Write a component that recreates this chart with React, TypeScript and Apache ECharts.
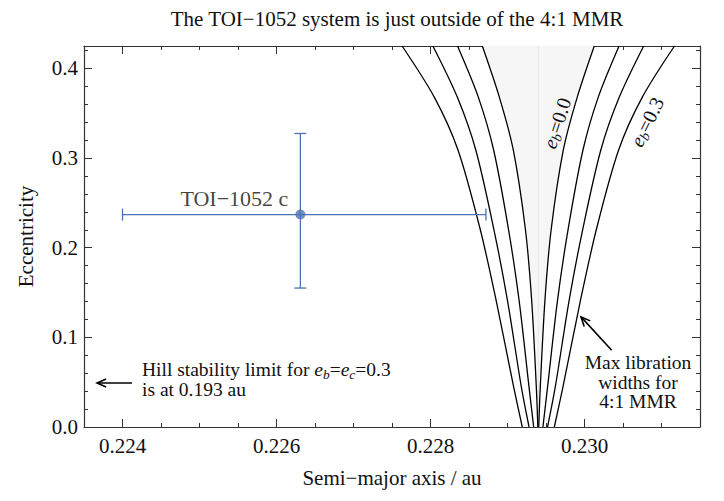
import React, { useEffect, useRef } from "react";
import * as echarts from "echarts";

const FONT = "Liberation Serif";
const BLUE = "#4C72B0";
const INK = "#111";

const titleText = "The TOI−1052 system is just outside of the 4:1 MMR";
const xAxisName = "Semi−major axis / au";
const yAxisName = "Eccentricity";

const xMin = 0.2235;
const xMax = 0.2315;
const yMin = 0;
const yMax = 0.425;

const xMajorTicks = [0.224, 0.226, 0.228, 0.23];
const xMinorTicks = [
  0.2235, 0.224, 0.2245, 0.225, 0.2255, 0.226, 0.2265, 0.227, 0.2275, 0.228,
  0.2285, 0.229, 0.2295, 0.23, 0.2305, 0.231, 0.2315,
];
const yMajorTicks = [0, 0.1, 0.2, 0.3, 0.4];
const yMinorTicks = [
  0, 0.02, 0.04, 0.06, 0.08, 0.1, 0.12, 0.14, 0.16, 0.18, 0.2, 0.22, 0.24, 0.26,
  0.28, 0.3, 0.32, 0.34, 0.36, 0.38, 0.4, 0.42,
];

// libration-width boundaries (semi-major axis, au) read at these eccentricities
const eccLevels = [0, 0.045, 0.141, 0.22, 0.309, 0.368, 0.425];
const eb00Left = [0.229394, 0.229374, 0.229314, 0.229233, 0.229075, 0.228894, 0.228673];
const eb00Right = [0.229406, 0.229426, 0.229486, 0.229567, 0.229725, 0.229906, 0.230127];
const eb01Left = [0.22934, 0.229279, 0.229151, 0.229014, 0.22882, 0.228621, 0.228351];
const eb01Right = [0.22946, 0.229521, 0.229649, 0.229786, 0.22998, 0.230179, 0.230449];
const eb02Left = [0.22928, 0.229179, 0.229, 0.228824, 0.228588, 0.228348, 0.228031];
const eb02Right = [0.22952, 0.229621, 0.2298, 0.229976, 0.230212, 0.230452, 0.230769];
const eb03Left = [0.229192, 0.229079, 0.228853, 0.228647, 0.228357, 0.228049, 0.227631];
const eb03Right = [0.229608, 0.229721, 0.229947, 0.230153, 0.230443, 0.230751, 0.231169];

const resonanceCenter = 0.2294;

const planetName = "TOI−1052 c";
const planetA = 0.22631;
const planetALow = 0.224;
const planetAHigh = 0.22872;
const planetE = 0.237;
const planetELow = 0.155;
const planetEHigh = 0.3274;

// arrows: [tailA, tailE, headA, headE]
const arrowData = [
  [0.224123, 0.0491, 0.223669, 0.0491],
  [0.230353, 0.0856, 0.229955, 0.1228],
];

const fmt = (d: number) => (v: number) => Number(v).toFixed(d);

function makeXAxis(position: "top" | "bottom", major: boolean, labels: boolean) {
  return {
    type: "value",
    position,
    min: xMin,
    max: xMax,
    interval: 0.0005,
    scale: true,
    splitLine: { show: false },
    axisLine: { show: !major, onZero: false, lineStyle: { color: "#333", width: 1.2 } },
    axisTick: {
      show: true,
      inside: true,
      length: major ? 8 : 4,
      customValues: major ? xMajorTicks : xMinorTicks,
      lineStyle: { color: "#333", width: 1 },
    },
    axisLabel: labels
      ? {
          show: true,
          customValues: xMajorTicks,
          formatter: fmt(3),
          fontFamily: FONT,
          fontSize: 21,
          color: INK,
          margin: 8,
        }
      : { show: false },
    name: labels ? xAxisName : "",
    nameLocation: "middle",
    nameGap: 40,
    nameMoveOverlap: false,
    nameTextStyle: { fontFamily: FONT, fontSize: 21, color: INK },
  };
}

function makeYAxis(position: "left" | "right", major: boolean, labels: boolean) {
  return {
    type: "value",
    position,
    min: yMin,
    max: yMax,
    interval: 0.02,
    splitLine: { show: false },
    axisLine: { show: !major, onZero: false, lineStyle: { color: "#333", width: 1.2 } },
    axisTick: {
      show: true,
      inside: true,
      length: major ? 8 : 4,
      customValues: major ? yMajorTicks : yMinorTicks,
      lineStyle: { color: "#333", width: 1 },
    },
    axisLabel: labels
      ? {
          show: true,
          customValues: yMajorTicks,
          formatter: fmt(1),
          fontFamily: FONT,
          fontSize: 21,
          color: INK,
          margin: 6,
        }
      : { show: false },
    name: labels ? yAxisName : "",
    nameLocation: "middle",
    nameGap: 48,
    nameMoveOverlap: false,
    nameTextStyle: { fontFamily: FONT, fontSize: 21, color: INK },
  };
}

const curveSets = [
  { left: eb00Left, right: eb00Right },
  { left: eb01Left, right: eb01Right },
  { left: eb02Left, right: eb02Right },
  { left: eb03Left, right: eb03Right },
];

function curveSeries(xs: number[]) {
  return {
    type: "line",
    xAxisIndex: 0,
    yAxisIndex: 0,
    data: eccLevels.map((e, i) => [xs[i], e]),
    showSymbol: false,
    symbol: "none",
    smooth: 0.3,
    silent: true,
    z: 3,
    lineStyle: { color: "#000", width: 1.3 },
  };
}

const hillRich = {
  i: { fontStyle: "italic", fontFamily: FONT, fontSize: 19.5, lineHeight: 19.5 },
  s: { fontStyle: "italic", fontFamily: FONT, fontSize: 13.5, lineHeight: 19.5, padding: [9, 0, 0, 0] },
};
const ebRich = {
  i: { fontStyle: "italic", fontFamily: FONT, fontSize: 20, lineHeight: 20 },
  s: { fontStyle: "italic", fontFamily: FONT, fontSize: 14, lineHeight: 20, padding: [9, 0, 0, 0] },
};

export default function App() {
  const ref = useRef<HTMLDivElement>(null);

  useEffect(() => {
    document.body.style.margin = "0";
    if (!ref.current) return;
    const chart = echarts.init(ref.current, null, { renderer: "svg" });

    const series: any[] = [];

    // shaded e_b = 0 libration region
    series.push({
      type: "custom",
      coordinateSystem: "cartesian2d",
      xAxisIndex: 0,
      yAxisIndex: 0,
      silent: true,
      z: 1,
      data: [[resonanceCenter, 0]],
      renderItem: (_params: any, api: any) => {
        const pts: number[][] = [];
        for (let i = 0; i < eccLevels.length; i++) pts.push(api.coord([eb00Left[i], eccLevels[i]]));
        for (let i = eccLevels.length - 1; i >= 0; i--) pts.push(api.coord([eb00Right[i], eccLevels[i]]));
        return { type: "polygon", shape: { points: pts }, style: { fill: "#f6f6f6", stroke: "none" } };
      },
    });

    // resonance centre line
    series.push({
      type: "line",
      xAxisIndex: 0,
      yAxisIndex: 0,
      data: [
        [resonanceCenter, yMin],
        [resonanceCenter, yMax],
      ],
      symbol: "none",
      silent: true,
      z: 2,
      lineStyle: { color: "#e8e8e8", width: 1 },
    });

    curveSets.forEach((c) => {
      series.push(curveSeries(c.left));
      series.push(curveSeries(c.right));
    });

    // error bars
    series.push({
      type: "custom",
      coordinateSystem: "cartesian2d",
      xAxisIndex: 0,
      yAxisIndex: 0,
      silent: true,
      z: 5,
      data: [[planetA, planetE, planetALow, planetAHigh, planetELow, planetEHigh]],
      renderItem: (_params: any, api: any) => {
        const a = api.value(0), e = api.value(1);
        const l = api.coord([api.value(2), e]);
        const r = api.coord([api.value(3), e]);
        const b = api.coord([a, api.value(4)]);
        const t = api.coord([a, api.value(5)]);
        const cap = 6;
        const style = { stroke: BLUE, lineWidth: 1.3 };
        const ln = (x1: number, y1: number, x2: number, y2: number) => ({
          type: "line",
          shape: { x1, y1, x2, y2 },
          style,
        });
        return {
          type: "group",
          children: [
            ln(l[0], l[1], r[0], r[1]),
            ln(t[0], t[1], b[0], b[1]),
            ln(l[0], l[1] - cap, l[0], l[1] + cap),
            ln(r[0], r[1] - cap, r[0], r[1] + cap),
            ln(t[0] - cap, t[1], t[0] + cap, t[1]),
            ln(b[0] - cap, b[1], b[0] + cap, b[1]),
          ],
        };
      },
    });

    // planet marker + name
    series.push({
      type: "scatter",
      xAxisIndex: 0,
      yAxisIndex: 0,
      z: 6,
      silent: true,
      symbolSize: 10,
      itemStyle: { color: BLUE },
      data: [[planetA, planetE]],
      label: {
        show: true,
        formatter: planetName,
        position: "left",
        distance: 7,
        offset: [0, -16],
        fontFamily: FONT,
        fontSize: 22,
        color: INK,
      },
    });

    // annotation arrows
    series.push({
      type: "custom",
      coordinateSystem: "cartesian2d",
      xAxisIndex: 0,
      yAxisIndex: 0,
      silent: true,
      z: 7,
      data: arrowData,
      renderItem: (_params: any, api: any) => {
        const p1 = api.coord([api.value(0), api.value(1)]);
        const p2 = api.coord([api.value(2), api.value(3)]);
        const ang = Math.atan2(p2[1] - p1[1], p2[0] - p1[0]);
        const L = 10;
        const sp = 0.42;
        const w1 = [p2[0] - L * Math.cos(ang - sp), p2[1] - L * Math.sin(ang - sp)];
        const w2 = [p2[0] - L * Math.cos(ang + sp), p2[1] - L * Math.sin(ang + sp)];
        const style = { stroke: "#000", lineWidth: 1.6, fill: "none" };
        return {
          type: "group",
          children: [
            { type: "line", shape: { x1: p1[0], y1: p1[1], x2: p2[0], y2: p2[1] }, style },
            { type: "polyline", shape: { points: [w1, p2, w2] }, style },
          ],
        };
      },
    });

    const option: any = {
      animation: false,
      backgroundColor: "#fff",
      title: {
        text: titleText,
        left: 392,
        top: 3,
        textAlign: "center",
        textStyle: { fontFamily: FONT, fontSize: 21, fontWeight: "normal", color: INK },
      },
      grid: { left: 84, right: 24, top: 46, bottom: 74, containLabel: false },
      xAxis: [
        makeXAxis("bottom", false, true),
        makeXAxis("bottom", true, false),
        makeXAxis("top", false, false),
        makeXAxis("top", true, false),
      ],
      yAxis: [
        makeYAxis("left", false, true),
        makeYAxis("left", true, false),
        makeYAxis("right", false, false),
        makeYAxis("right", true, false),
      ],
      series,
      graphic: [
        {
          type: "text",
          x: 142,
          y: 360,
          z: 100,
          silent: true,
          style: {
            text: "Hill stability limit for {i|e}{s|b}={i|e}{s|c}=0.3\nis at 0.193 au",
            rich: hillRich,
            fontFamily: FONT,
            fontSize: 19.5,
            lineHeight: 19.5,
            fill: INK,
            verticalAlign: "top",
            align: "left",
          },
        },
        {
          type: "text",
          x: 638,
          y: 353,
          z: 100,
          silent: true,
          style: {
            text: "Max libration\nwidths for\n4:1 MMR",
            fontFamily: FONT,
            fontSize: 19.5,
            lineHeight: 19.5,
            fill: INK,
            align: "center",
            verticalAlign: "top",
          },
        },
        {
          type: "text",
          x: 557,
          y: 123,
          z: 100,
          rotation: (72 * Math.PI) / 180,
          silent: true,
          style: {
            text: "{i|e}{s|b}=0.0",
            rich: ebRich,
            fontFamily: FONT,
            fontSize: 20,
            lineHeight: 20,
            fill: INK,
            align: "center",
            verticalAlign: "middle",
          },
        },
        {
          type: "text",
          x: 647,
          y: 122,
          z: 100,
          rotation: (64 * Math.PI) / 180,
          silent: true,
          style: {
            text: "{i|e}{s|b}=0.3",
            rich: ebRich,
            fontFamily: FONT,
            fontSize: 20,
            lineHeight: 20,
            fill: INK,
            align: "center",
            verticalAlign: "middle",
          },
        },
      ],
    };

    chart.setOption(option);
    return () => chart.dispose();
  }, []);

  return <div ref={ref} style={{ width: 724, height: 501 }} />;
}
